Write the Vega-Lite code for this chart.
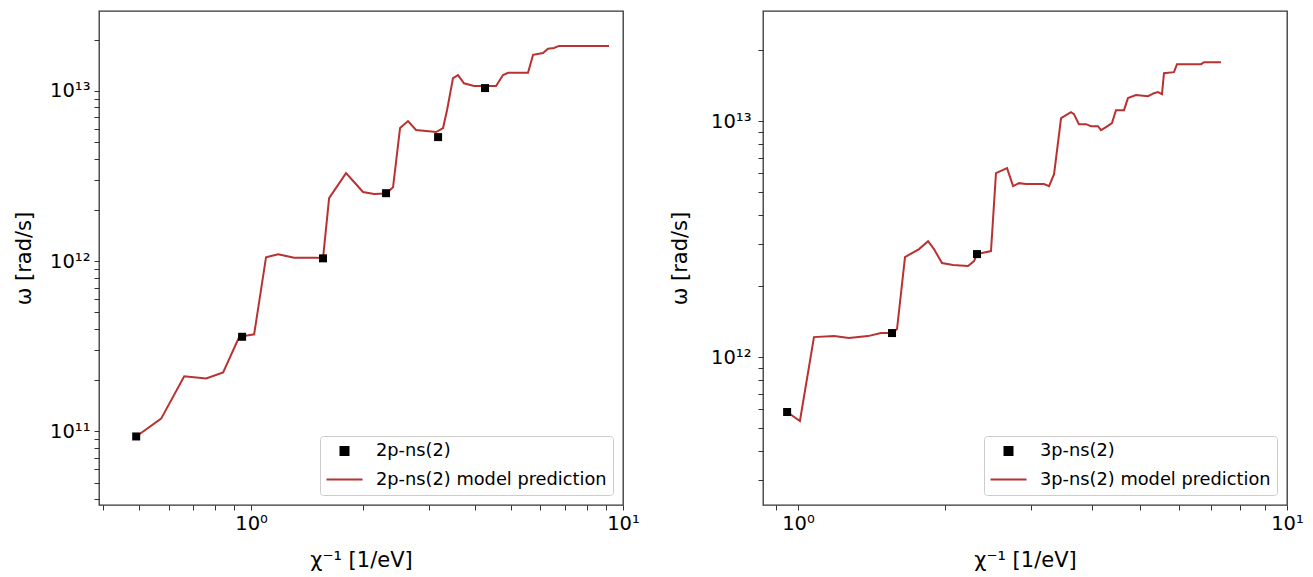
{
  "$schema": "https://vega.github.io/schema/vega-lite/v6.json",
  "background": "white",
  "padding": {"left": 12, "top": 10, "right": 5, "bottom": 5},
  "config": {
    "font": "DejaVu Sans",
    "view": {"stroke": "#333333", "strokeWidth": 1.3},
    "axis": {
      "domain": false, "grid": false,
      "labelFont": "DejaVu Sans", "titleFont": "DejaVu Sans",
      "labelFontSize": 19.5, "titleFontSize": 21, "titleFontWeight": "normal",
      "labelColor": "#000000", "titleColor": "#000000", "tickColor": "#333333", "tickWidth": 1, "tickSize": 5,
      "labelOverlap": false, "labelFlush": false
    },
    "axisX": {"encode": {"ticks": {"update": {"y2": [{"test": "abs(log(datum.value)/LN10 - round(log(datum.value)/LN10)) < 0.001", "value": 5.5}, {"value": 3}]}}}},
    "axisY": {"encode": {"ticks": {"update": {"x2": [{"test": "abs(log(datum.value)/LN10 - round(log(datum.value)/LN10)) < 0.001", "value": -5.5}, {"value": -3}]}}}},
    "legend": {
      "title": null, "orient": "bottom-right", "offset": 10,
      "fillColor": "white", "strokeColor": "#cccccc", "cornerRadius": 3, "padding": 6,
      "labelFont": "DejaVu Sans", "labelFontSize": 17.8, "labelColor": "#000000", "labelLimit": 500,
      "symbolOffset": -1, "rowPadding": -3, "labelOffset": 12, "symbolStrokeWidth": 2
    }
  },
  "bounds": "flush",
  "spacing": 140,
  "resolve": {"scale": {"color": "independent", "shape": "independent", "size": "independent", "x": "independent", "y": "independent"}, "legend": {"color": "independent", "shape": "independent", "size": "independent"}},
  "hconcat": [
    {
      "width": 524, "height": 494,
      "layer": [
        {
          "data": {"values": [
            {"x": 0.491, "y": 9.35e10, "series": "2p-ns(2) model prediction"},
            {"x": 0.573, "y": 1.19e11, "series": "2p-ns(2) model prediction"},
            {"x": 0.661, "y": 2.11e11, "series": "2p-ns(2) model prediction"},
            {"x": 0.757, "y": 2.05e11, "series": "2p-ns(2) model prediction"},
            {"x": 0.841, "y": 2.22e11, "series": "2p-ns(2) model prediction"},
            {"x": 0.928, "y": 3.57e11, "series": "2p-ns(2) model prediction"},
            {"x": 0.946, "y": 3.62e11, "series": "2p-ns(2) model prediction"},
            {"x": 1.019, "y": 3.72e11, "series": "2p-ns(2) model prediction"},
            {"x": 1.097, "y": 1.056e12, "series": "2p-ns(2) model prediction"},
            {"x": 1.182, "y": 1.10e12, "series": "2p-ns(2) model prediction"},
            {"x": 1.305, "y": 1.05e12, "series": "2p-ns(2) model prediction"},
            {"x": 1.495, "y": 1.05e12, "series": "2p-ns(2) model prediction"},
            {"x": 1.561, "y": 1.04e12, "series": "2p-ns(2) model prediction"},
            {"x": 1.621, "y": 2.35e12, "series": "2p-ns(2) model prediction"},
            {"x": 1.800, "y": 3.29e12, "series": "2p-ns(2) model prediction"},
            {"x": 1.892, "y": 2.92e12, "series": "2p-ns(2) model prediction"},
            {"x": 2.000, "y": 2.55e12, "series": "2p-ns(2) model prediction"},
            {"x": 2.141, "y": 2.48e12, "series": "2p-ns(2) model prediction"},
            {"x": 2.306, "y": 2.50e12, "series": "2p-ns(2) model prediction"},
            {"x": 2.408, "y": 2.72e12, "series": "2p-ns(2) model prediction"},
            {"x": 2.515, "y": 6.06e12, "series": "2p-ns(2) model prediction"},
            {"x": 2.642, "y": 6.66e12, "series": "2p-ns(2) model prediction"},
            {"x": 2.777, "y": 5.90e12, "series": "2p-ns(2) model prediction"},
            {"x": 3.144, "y": 5.74e12, "series": "2p-ns(2) model prediction"},
            {"x": 3.282, "y": 6.06e12, "series": "2p-ns(2) model prediction"},
            {"x": 3.365, "y": 7.73e12, "series": "2p-ns(2) model prediction"},
            {"x": 3.491, "y": 1.19e13, "series": "2p-ns(2) model prediction"},
            {"x": 3.601, "y": 1.24e13, "series": "2p-ns(2) model prediction"},
            {"x": 3.737, "y": 1.11e13, "series": "2p-ns(2) model prediction"},
            {"x": 3.977, "y": 1.07e13, "series": "2p-ns(2) model prediction"},
            {"x": 4.256, "y": 1.07e13, "series": "2p-ns(2) model prediction"},
            {"x": 4.557, "y": 1.07e13, "series": "2p-ns(2) model prediction"},
            {"x": 4.758, "y": 1.24e13, "series": "2p-ns(2) model prediction"},
            {"x": 4.908, "y": 1.28e13, "series": "2p-ns(2) model prediction"},
            {"x": 5.554, "y": 1.28e13, "series": "2p-ns(2) model prediction"},
            {"x": 5.730, "y": 1.63e13, "series": "2p-ns(2) model prediction"},
            {"x": 6.095, "y": 1.67e13, "series": "2p-ns(2) model prediction"},
            {"x": 6.287, "y": 1.77e13, "series": "2p-ns(2) model prediction"},
            {"x": 6.525, "y": 1.79e13, "series": "2p-ns(2) model prediction"},
            {"x": 6.730, "y": 1.84e13, "series": "2p-ns(2) model prediction"},
            {"x": 9.171, "y": 1.84e13, "series": "2p-ns(2) model prediction"}
          ]},
          "mark": {"type": "line", "strokeWidth": 2},
          "encoding": {
            "x": {"field": "x", "type": "quantitative",
              "scale": {"type": "log", "domain": [0.39, 10], "nice": false},
              "axis": {"title": "χ⁻¹ [1/eV]", "values": [0.4,0.5,0.6,0.7,0.8,0.9,1,2,3,4,5,6,7,8,9,10],
                "labelExpr": "datum.value == 1 ? '10⁰' : datum.value == 10 ? '10¹' : ''",
                "labelPadding": 4, "titlePadding": 17}},
            "y": {"field": "y", "type": "quantitative",
              "scale": {"type": "log", "domain": [3.7e10, 2.95e13], "nice": false},
              "axis": {"title": "ω [rad/s]", "values": [4e10,5e10,6e10,7e10,8e10,9e10,1e11,2e11,3e11,4e11,5e11,6e11,7e11,8e11,9e11,1e12,2e12,3e12,4e12,5e12,6e12,7e12,8e12,9e12,1e13,2e13],
                "labelExpr": "datum.value == 1e11 ? '10¹¹' : datum.value == 1e12 ? '10¹²' : datum.value == 1e13 ? '10¹³' : ''",
                "labelPadding": 4, "titlePadding": 15}},
            "color": {"field": "series", "type": "nominal",
              "scale": {"domain": ["2p-ns(2)", "2p-ns(2) model prediction"], "range": ["#000000", "#b83232"]}}
          }
        },
        {
          "data": {"values": [
            {"x": 0.491, "y": 9.35e10, "series": "2p-ns(2)"},
            {"x": 0.946, "y": 3.6e11, "series": "2p-ns(2)"},
            {"x": 1.561, "y": 1.04e12, "series": "2p-ns(2)"},
            {"x": 2.306, "y": 2.51e12, "series": "2p-ns(2)"},
            {"x": 3.183, "y": 5.36e12, "series": "2p-ns(2)"},
            {"x": 4.256, "y": 1.04e13, "series": "2p-ns(2)"}
          ]},
          "mark": {"type": "point", "filled": true, "opacity": 1},
          "encoding": {
            "x": {"field": "x", "type": "quantitative"},
            "y": {"field": "y", "type": "quantitative"},
            "color": {"field": "series", "type": "nominal"},
            "shape": {"field": "series", "type": "nominal",
              "scale": {"domain": ["2p-ns(2)", "2p-ns(2) model prediction"], "range": ["square", "stroke"]}},
            "size": {"field": "series", "type": "nominal",
              "scale": {"domain": ["2p-ns(2)", "2p-ns(2) model prediction"], "range": [64, 1300]}}
          }
        }
      ]
    },
    {
      "width": 524, "height": 494,
      "layer": [
        {
          "data": {"values": [
            {"x": 0.950, "y": 5.85e11, "series": "3p-ns(2) model prediction"},
            {"x": 1.009, "y": 5.36e11, "series": "3p-ns(2) model prediction"},
            {"x": 1.078, "y": 1.215e12, "series": "3p-ns(2) model prediction"},
            {"x": 1.185, "y": 1.227e12, "series": "3p-ns(2) model prediction"},
            {"x": 1.271, "y": 1.204e12, "series": "3p-ns(2) model prediction"},
            {"x": 1.390, "y": 1.227e12, "series": "3p-ns(2) model prediction"},
            {"x": 1.478, "y": 1.264e12, "series": "3p-ns(2) model prediction"},
            {"x": 1.557, "y": 1.264e12, "series": "3p-ns(2) model prediction"},
            {"x": 1.594, "y": 1.314e12, "series": "3p-ns(2) model prediction"},
            {"x": 1.655, "y": 2.653e12, "series": "3p-ns(2) model prediction"},
            {"x": 1.768, "y": 2.869e12, "series": "3p-ns(2) model prediction"},
            {"x": 1.845, "y": 3.10e12, "series": "3p-ns(2) model prediction"},
            {"x": 1.897, "y": 2.869e12, "series": "3p-ns(2) model prediction"},
            {"x": 1.970, "y": 2.502e12, "series": "3p-ns(2) model prediction"},
            {"x": 2.075, "y": 2.454e12, "series": "3p-ns(2) model prediction"},
            {"x": 2.227, "y": 2.430e12, "series": "3p-ns(2) model prediction"},
            {"x": 2.291, "y": 2.551e12, "series": "3p-ns(2) model prediction"},
            {"x": 2.323, "y": 2.732e12, "series": "3p-ns(2) model prediction"},
            {"x": 2.481, "y": 2.813e12, "series": "3p-ns(2) model prediction"},
            {"x": 2.540, "y": 6.02e12, "series": "3p-ns(2) model prediction"},
            {"x": 2.676, "y": 6.32e12, "series": "3p-ns(2) model prediction"},
            {"x": 2.753, "y": 5.30e12, "series": "3p-ns(2) model prediction"},
            {"x": 2.831, "y": 5.46e12, "series": "3p-ns(2) model prediction"},
            {"x": 2.926, "y": 5.41e12, "series": "3p-ns(2) model prediction"},
            {"x": 3.185, "y": 5.41e12, "series": "3p-ns(2) model prediction"},
            {"x": 3.261, "y": 5.30e12, "series": "3p-ns(2) model prediction"},
            {"x": 3.339, "y": 5.96e12, "series": "3p-ns(2) model prediction"},
            {"x": 3.451, "y": 1.030e13, "series": "3p-ns(2) model prediction"},
            {"x": 3.616, "y": 1.092e13, "series": "3p-ns(2) model prediction"},
            {"x": 3.667, "y": 1.071e13, "series": "3p-ns(2) model prediction"},
            {"x": 3.754, "y": 9.71e12, "series": "3p-ns(2) model prediction"},
            {"x": 3.881, "y": 9.71e12, "series": "3p-ns(2) model prediction"},
            {"x": 3.973, "y": 9.52e12, "series": "3p-ns(2) model prediction"},
            {"x": 4.106, "y": 9.52e12, "series": "3p-ns(2) model prediction"},
            {"x": 4.165, "y": 9.16e12, "series": "3p-ns(2) model prediction"},
            {"x": 4.264, "y": 9.43e12, "series": "3p-ns(2) model prediction"},
            {"x": 4.386, "y": 9.81e12, "series": "3p-ns(2) model prediction"},
            {"x": 4.469, "y": 1.113e13, "series": "3p-ns(2) model prediction"},
            {"x": 4.641, "y": 1.113e13, "series": "3p-ns(2) model prediction"},
            {"x": 4.729, "y": 1.252e13, "series": "3p-ns(2) model prediction"},
            {"x": 4.911, "y": 1.290e13, "series": "3p-ns(2) model prediction"},
            {"x": 5.197, "y": 1.276e13, "series": "3p-ns(2) model prediction"},
            {"x": 5.346, "y": 1.314e13, "series": "3p-ns(2) model prediction"},
            {"x": 5.447, "y": 1.327e13, "series": "3p-ns(2) model prediction"},
            {"x": 5.550, "y": 1.301e13, "series": "3p-ns(2) model prediction"},
            {"x": 5.603, "y": 1.597e13, "series": "3p-ns(2) model prediction"},
            {"x": 5.873, "y": 1.613e13, "series": "3p-ns(2) model prediction"},
            {"x": 5.957, "y": 1.744e13, "series": "3p-ns(2) model prediction"},
            {"x": 6.672, "y": 1.744e13, "series": "3p-ns(2) model prediction"},
            {"x": 6.767, "y": 1.778e13, "series": "3p-ns(2) model prediction"},
            {"x": 7.328, "y": 1.778e13, "series": "3p-ns(2) model prediction"}
          ]},
          "mark": {"type": "line", "strokeWidth": 2},
          "encoding": {
            "x": {"field": "x", "type": "quantitative",
              "scale": {"type": "log", "domain": [0.848, 10], "nice": false},
              "axis": {"title": "χ⁻¹ [1/eV]", "values": [0.9,1,2,3,4,5,6,7,8,9,10],
                "labelExpr": "datum.value == 1 ? '10⁰' : datum.value == 10 ? '10¹' : ''",
                "labelPadding": 4, "titlePadding": 17}},
            "y": {"field": "y", "type": "quantitative",
              "scale": {"type": "log", "domain": [2.36e11, 2.93e13], "nice": false},
              "axis": {"title": "ω [rad/s]", "values": [3e11,4e11,5e11,6e11,7e11,8e11,9e11,1e12,2e12,3e12,4e12,5e12,6e12,7e12,8e12,9e12,1e13,2e13],
                "labelExpr": "datum.value == 1e12 ? '10¹²' : datum.value == 1e13 ? '10¹³' : ''",
                "labelPadding": 7, "titlePadding": 20}},
            "color": {"field": "series", "type": "nominal",
              "scale": {"domain": ["3p-ns(2)", "3p-ns(2) model prediction"], "range": ["#000000", "#b83232"]}}
          }
        },
        {
          "data": {"values": [
            {"x": 0.950, "y": 5.85e11, "series": "3p-ns(2)"},
            {"x": 1.557, "y": 1.264e12, "series": "3p-ns(2)"},
            {"x": 2.323, "y": 2.732e12, "series": "3p-ns(2)"}
          ]},
          "mark": {"type": "point", "filled": true, "opacity": 1},
          "encoding": {
            "x": {"field": "x", "type": "quantitative"},
            "y": {"field": "y", "type": "quantitative"},
            "color": {"field": "series", "type": "nominal"},
            "shape": {"field": "series", "type": "nominal",
              "scale": {"domain": ["3p-ns(2)", "3p-ns(2) model prediction"], "range": ["square", "stroke"]}},
            "size": {"field": "series", "type": "nominal",
              "scale": {"domain": ["3p-ns(2)", "3p-ns(2) model prediction"], "range": [64, 1300]}}
          }
        }
      ]
    }
  ]
}
